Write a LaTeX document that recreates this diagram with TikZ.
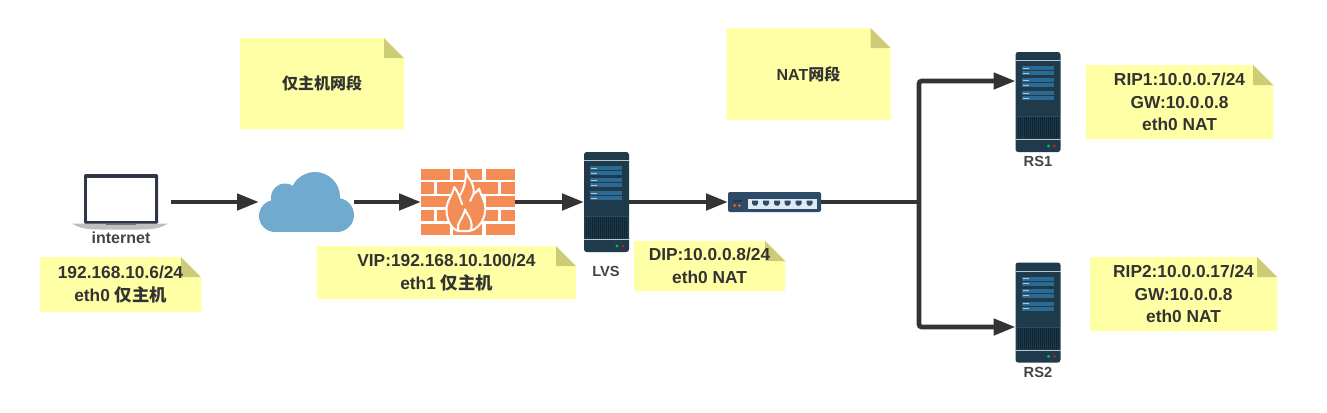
\documentclass[tikz,border=0pt]{standalone}
\usepackage{fontspec}
\setmainfont{Liberation Sans}
\newfontfamily\cjk{Noto Sans CJK SC}
\usetikzlibrary{arrows.meta,backgrounds,calc}
\definecolor{notefill}{HTML}{FFFFA6}
\definecolor{notefold}{HTML}{CCCC78}
\definecolor{inkdark}{HTML}{333333}
\definecolor{inklabel}{HTML}{444444}
\definecolor{srvbody}{HTML}{1F3A4B}
\definecolor{srvrow}{HTML}{2A6A94}
\definecolor{srvline}{HTML}{B4C6D0}
\definecolor{srvvent}{HTML}{0F2431}
\definecolor{brick}{HTML}{F48C55}
\definecolor{cloudblue}{HTML}{70ABCF}
\definecolor{swbody}{HTML}{2D4A66}
\definecolor{swpanel}{HTML}{DDEAF3}
\definecolor{lapbody}{HTML}{2F3646}

\begin{document}
\begin{tikzpicture}[x=0.75pt,y=-0.75pt,
          sz/.style 2 args={minimum width=#1*0.75pt, minimum height=#2*0.75pt, inner sep=0pt, outer sep=0pt},
          notebox/.style={align=center, text=inkdark, font=\fontsize{13}{16.9}\selectfont\bfseries},
          titlebox/.style={align=center, text=inkdark, font=\fontsize{12}{15}\selectfont\bfseries},
          lbl/.style={text=inklabel, inner sep=0pt, font=\fontsize{11}{13}\selectfont\bfseries},
          srv/.style={sz={45}{100}, fill=srvbody, rounded corners=2pt},
          arr/.style={-{Triangle[length=16.5pt,width=12pt]}, line width=3.5pt, inkdark, rounded corners=2pt}]
        \useasboundingbox (0,0) rectangle (1327,412);
        \node[sz={164}{91}, titlebox] (ntHost) at (322,83.5) {{\cjk 仅主机网段}};
        \node[sz={164}{92}, titlebox] (ntNat) at (808.5,74) {NAT{\cjk 网段}};
        \node[sz={161}{55}, notebox] (ntPc) at (120.5,284.5) {192.168.10.6/24\\eth0 {\cjk 仅主机}};
        \node[sz={259}{53}, notebox] (ntVip) at (446.5,272.5) {VIP:192.168.10.100/24\\eth1 {\cjk 仅主机}};
        \node[sz={151}{50}, notebox] (ntDip) at (709.5,266) {DIP:10.0.0.8/24\\eth0 NAT};
        \node[sz={187}{74}, notebox] (ntRip1) at (1179.5,102) {RIP1:10.0.0.7/24\\GW:10.0.0.8\\eth0 NAT};
        \node[sz={187}{74}, notebox] (ntRip2) at (1183.5,294) {RIP2:10.0.0.17/24\\GW:10.0.0.8\\eth0 NAT};
        \begin{scope}[on background layer]
          \foreach \n in {ntHost,ntNat,ntPc,ntVip,ntDip,ntRip1,ntRip2} {
            \fill[notefill] (\n.south west) -- (\n.north west) -- ($(\n.north east)+(-20,0)$) -- ($(\n.north east)+(0,20)$) -- (\n.south east) -- cycle;
            \fill[notefold] ($(\n.north east)+(-20,0)$) -- ($(\n.north east)+(-20,20)$) -- ($(\n.north east)+(0,20)$) -- cycle;
          }
        \end{scope}

        \node[sz={98}{55}] (pc) at (122,202) {};
        \node[sz={95}{60}] (cld) at (306.5,202) {};
        \node[sz={94}{68}] (fw) at (468,202) {};
        \node[srv] (lvs) at (606.5,202) {};
        \node[sz={93}{20}, fill=swbody, rounded corners=1.5pt] (sw) at (774.5,202) {};
        \node[srv] (rs1) at (1038,102) {};
        \node[srv] (rs2) at (1038,312.5) {};
        \node[lbl, font=\fontsize{12}{14}\selectfont\bfseries] (lbPc) at (121,238) {internet};
        \node[lbl] (lbLvs) at (606,271) {LVS};
        \node[lbl] (lbRs1) at (1038,161) {RS1};
        \node[lbl] (lbRs2) at (1038,372) {RS2};

        \foreach \n in {lvs,rs1,rs2} {
          \begin{scope}[shift={(\n.north west)}]
            \foreach \yy in {14,19,26,31,39,44} {
              \fill[srvrow] (6,\yy) rectangle (38,\yy+4.4);
              \fill[srvline] (7,\yy+1.5) rectangle (13,\yy+2.7);
            }
            \fill[srvline] (0,8) rectangle (45,9.2);
            \fill[srvline] (0,87) rectangle (45,88.2);
            \fill[srvrow!40!srvbody] (1,64) rectangle (44,65);
            \foreach \xx in {2,4,...,42} {\fill[srvvent] (\xx,65) rectangle (\xx+1.2,86);}
            \fill[green!50!teal] (33,94) circle (1.7);
            \fill[red!60!black!85!white] (39,94) circle (1.7);
          \end{scope}
        }

        \fill[lapbody, rounded corners=1pt] (84,174) rectangle (158,224);
        \fill[white] (87,177.5) rectangle (155,221);
        \fill[black!25] (72,223.5) -- (168,223.5) .. controls (160,229) and (150,229.5) .. (140,229.5) -- (100,229.5) .. controls (90,229.5) and (80,229) .. (72,223.5) -- cycle;
        \fill[black!55] (106,223.5) rectangle (136,225);

        \fill[cloudblue] (275,216) circle (16) (285,197.5) circle (14) (315,197) circle (25) (337,215) circle (17);
        \fill[cloudblue] (275,205) rectangle (337,232);

        \foreach \yy/\xa/\xb in {0/420.5/449.5,0/453/481.5,0/485.5/514.5,
                                 2/420.5/449.5,2/453/481.5,2/485.5/514.5,
                                 4/420.5/449.5,4/453/481.5,4/485.5/514.5,
                                 1/420.5/433.5,1/437/465,1/468.5/497.5,1/501/514.5,
                                 3/420.5/433.5,3/437/465,3/468.5/497.5,3/501/514.5} {
          \fill[brick] (\xa,168.5+13.75*\yy) rectangle (\xb,179.75+13.75*\yy);
        }
        \begin{scope}[shift={(415,162)},x=0.25pt,y=-0.25pt]
          \filldraw[brick, draw=white, line width=1.5pt, line join=round]
            (152,25) .. controls (155,50) and (178,55) .. (176,95)
            .. controls (185,90) and (190,85) .. (192,80)
            .. controls (200,105) and (215,125) .. (210,150)
            .. controls (207,180) and (185,205) .. (160,207)
            -- (130,207) .. controls (105,200) and (92,165) .. (95,135)
            .. controls (97,115) and (112,100) .. (118,75)
            .. controls (125,85) and (130,95) .. (133,103)
            .. controls (145,85) and (155,55) .. (152,25) -- cycle;
          \draw[white, line width=1.5pt, line join=round] (133,103) -- (142,128);
          \draw[white, line width=1.5pt, line join=round] (176,95) -- (165,118);
          \draw[white, line width=1.5pt, line join=round] (130,205) .. controls (122,185) and (145,170) .. (150,142) .. controls (160,165) and (178,180) .. (166,205);
        \end{scope}

        \fill[swpanel] (748,198.5) rectangle (817,208.5);
        \foreach \xx in {755,766,777,787.5,798.5,809.5} {
          \fill[swbody] (\xx-3,200.5) -- (\xx+3,200.5) -- (\xx+3,203.5) -- (\xx+1.5,205.5) -- (\xx-1.5,205.5) -- (\xx-3,203.5) -- cycle;
        }
        \fill[swbody!75!black] (732.5,199.5) rectangle (742,202);
        \fill[orange!80!red] (734.7,205.5) circle (1.5) (739.4,205.5) circle (1.5);

        \coordinate (bus) at (919,202);
        \coordinate (inRs1) at (rs1.west |- 0,81);
        \coordinate (inRs2) at (rs2.west |- 0,327);
        \draw[arr] (pc.east) -- (cld.west);
        \draw[arr] (cld.east) -- (fw.west);
        \draw[arr] (fw.east) -- (lvs.west);
        \draw[arr] (lvs.east) -- (sw.west);
        \draw[arr, -] (sw.east) -- (bus);
        \draw[arr] (bus) |- (inRs1);
        \draw[arr] (bus) |- (inRs2);
      \end{tikzpicture}
\end{document}
